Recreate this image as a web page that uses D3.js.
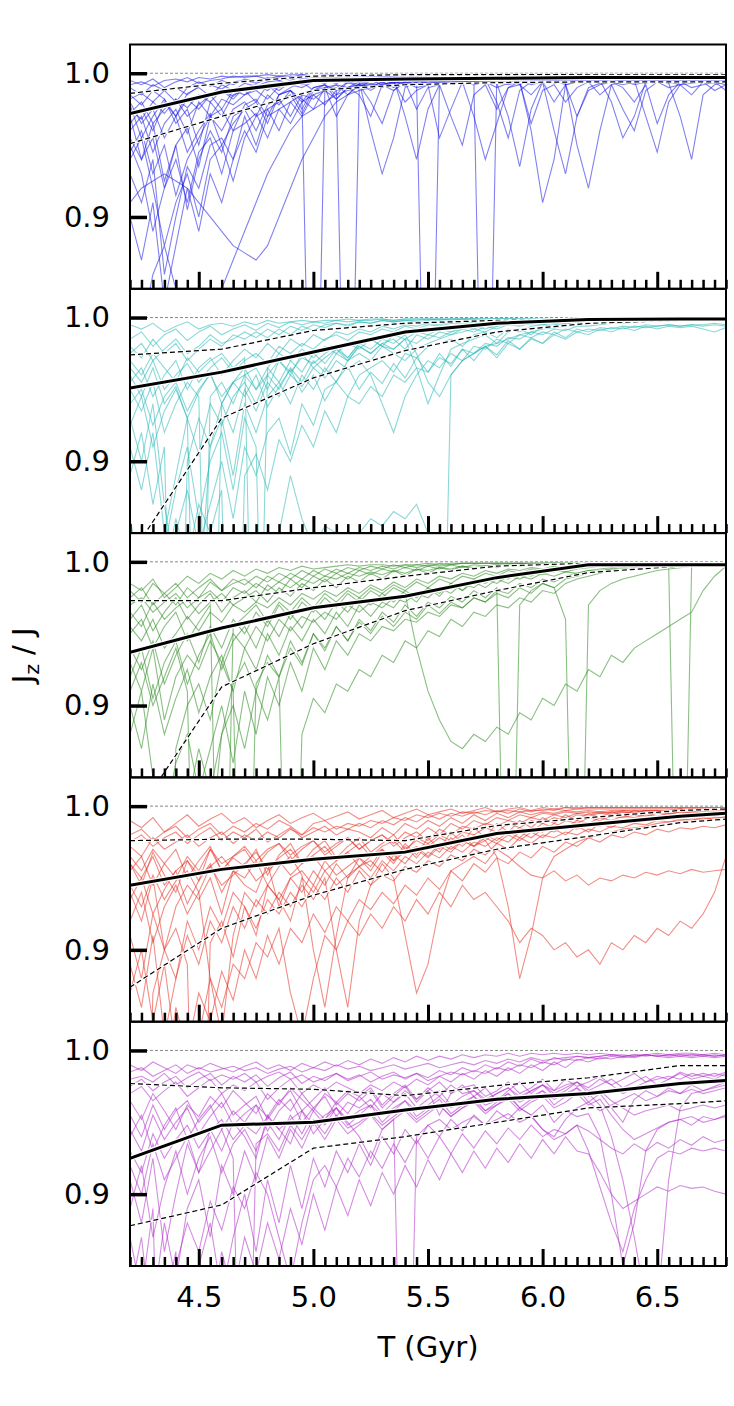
<!DOCTYPE html>
<html>
<head>
<meta charset="utf-8">
<script src="https://cdn.jsdelivr.net/npm/d3@7"></script>
<style>
body { margin: 0; background: #fff; }
text { font-family: "DejaVu Sans", sans-serif; }
</style>
</head>
<body>
<svg id="chart"></svg>
<script>
// sample times of the runs (Gyr)
const times = [4.2,4.25,4.3,4.35,4.4,4.45,4.5,4.55,4.6,4.65, 4.7,4.75,4.8,4.85,4.9,4.95,5.0,5.05,5.1,5.15,
  5.2,5.25,5.3,5.35,5.4,5.45,5.5,5.55,5.6,5.65, 5.7,5.75,5.8,5.85,5.9,5.95,6.0,6.05,6.1,6.15,
  6.2,6.25,6.3,6.35,6.4,6.45,6.5,6.55,6.6,6.65, 6.7,6.75,6.8];
// times of the binned median / percentile curves
const knots = [4.2,4.6,5.0,5.4,5.8,6.2,6.6,6.8];
const xTicks = [4.5,5.0,5.5,6.0,6.5];
const yTicks = [0.9,1.0];

// runs: 1 - Jz/J, in units of 1e-3
const blueRuns = [
  [8,6,9,5,4,6,3,4,2,3, 2,2,1,2,1,1,2,1,1,1, 1,1,1,2,1,1,1,1,1,1, 1,1,1,1,1,1,1,1,1,1, 1,1,1,1,1,1,1,1,1,1, 1,1,1],
  [18,14,20,12,10,15,9,8,11,6, 5,7,4,3,5,2,3,2,2,3, 2,2,3,2,1,2,2,1,2,2, 1,2,2,1,2,1,1,2,1,1, 2,1,1,2,1,1,2,1,1,1, 2,1,1],
  [25,32,20,28,18,24,15,20,12,16, 10,8,12,6,8,5,4,6,3,4, 3,5,2,4,3,2,3,4,2,3, 3,2,4,2,3,2,2,3,2,2, 2,3,2,2,4,3,2,2,3,2, 2,3,2],
  [40,30,55,35,25,42,20,30,18,22, 15,12,18,9,8,10,6,5,7,4, 5,3,4,6,3,4,5,3,4,3, 6,4,3,5,8,4,3,4,3,5, 3,4,3,3,5,4,3,4,3,3, 4,3,3],
  [30,60,45,80,50,38,65,30,25,40, 22,18,30,15,12,20,10,8,12,6, 8,5,6,10,5,4,7,5,4,6, 5,4,20,45,12,6,5,4,6,5, 4,5,4,6,5,4,5,4,6,5, 4,5,6],
  [15,22,12,18,30,14,10,16,8,12, 7,9,6,5,8,4,5,3,4,6, 4,3,5,4,30,60,25,8,5,4, 6,5,4,7,5,4,6,5,4,5, 4,5,6,4,5,30,55,20,8,5, 6,4,5],
  [50,70,110,80,60,90,55,45,70,40, 35,28,45,25,20,30,15,12,18,10, 8,12,7,9,6,10,8,6,7,5, 8,6,10,7,5,8,6,40,70,30, 10,7,6,8,6,7,5,6,8,7, 6,7,5],
  [20,35,25,45,30,55,40,28,50,35, 25,40,22,18,30,15,400,12,8,10, 6,8,5,7,4,6,5,8,4,5, 4,6,5,4,7,5,4,6,5,4, 5,4,6,5,4,5,4,6,5,4, 5,4,5],
  [60,45,80,120,90,70,100,60,50,75, 45,30,25,40,20,15,18,12,10,400, 9,7,10,6,8,5,7,6,5,4, 6,5,7,4,6,5,4,5,6,4, 5,6,4,5,4,6,5,4,5,6, 4,5,4],
  [100,130,90,160,120,80,110,70,90,60, 40,55,30,25,35,20,15,22,12,10, 8,10,6,9,7,5,8,6,5,7, 4,6,5,8,6,4,5,7,5,4, 6,5,4,5,7,5,4,6,5,4, 6,5,4],
  [90,80,75,70,75,80,90,100,110,120, 125,130,120,100,80,60,45,30,20,15, 12,10,8,6,5,6,5,4,5,4, 5,4,6,5,4,5,4,5,4,5, 4,5,4,5,4,5,4,5,4,5, 4,5,4],
  [35,25,40,20,30,18,25,15,12,18, 10,12,8,10,6,8,5,7,4,5, 6,40,70,45,10,6,5,4,6,5, 4,5,6,4,5,4,6,5,7,50, 80,40,8,6,5,4,6,5,4,5, 6,5,4],
  [5,8,4,10,6,3,7,5,4,2, 3,2,4,2,3,1,2,3,2,2, 2,3,2,2,1,3,2,2,3,2, 2,3,2,2,3,2,2,3,2,2, 3,2,2,3,2,2,3,2,2,3, 2,2,3],
  [45,60,35,75,50,95,60,40,55,30, 25,20,35,15,12,25,10,8,15,6, 10,5,8,12,6,5,400,6,5,8, 6,5,7,30,65,25,6,5,8,6, 5,4,6,5,8,6,5,7,5,6, 5,6,8],
  [28,20,35,25,18,30,22,15,25,12, 15,10,8,12,6,8,5,6,4,7, 5,4,6,5,8,4,6,5,4,6, 5,400,4,6,5,4,7,5,6,4, 6,5,20,45,30,6,5,4,6,5, 4,6,5],
  [70,90,60,140,100,65,80,50,45,60, 30,50,25,20,15,28,12,10,8,15, 7,10,6,5,9,6,5,7,6,5, 8,6,5,7,6,40,90,60,8,6, 5,7,6,5,4,6,5,7,30,60, 15,8,6],
  [10,15,8,12,20,10,6,9,5,8, 4,6,3,5,2,4,3,2,3,2, 3,2,2,3,2,2,3,2,2,3, 2,2,3,2,2,3,2,2,3,2, 2,3,2,2,3,2,2,3,2,2, 3,2,2],
  [160,180,140,120,150,170,200,180,150,130, 110,90,70,55,40,30,25,20,15,12, 10,8,9,7,6,8,5,6,7,5, 6,5,4,6,5,7,5,4,6,5, 4,6,5,4,6,5,4,5,6,4, 5,6,4],
  [55,40,70,50,85,60,45,30,40,25, 20,30,15,22,12,18,25,10,30,15, 8,20,35,12,6,25,10,8,30,50, 15,8,25,10,6,35,12,8,20,10, 6,15,8,25,40,12,6,10,8,15, 6,12,8],
  [22,45,30,18,35,25,50,20,30,15, 12,20,8,15,10,6,12,8,18,10, 15,30,8,6,20,12,8,45,25,6, 30,60,35,10,8,15,6,20,8,30, 12,8,6,10,20,8,35,15,6,10, 8,6,12]
];
const blueMedian = [0.972,0.987,0.995,0.996,0.9965,0.997,0.997,0.997];
const blueUpper  = [0.986,0.993,0.998,0.999,0.999,0.999,0.999,0.999];
const blueLower  = [0.951,0.970,0.988,0.992,0.9935,0.994,0.994,0.994];

const cyanRuns = [
  [5,8,4,10,6,3,8,5,4,6, 3,5,2,4,3,2,3,2,2,1, 2,1,1,2,1,1,1,1,1,1, 1,1,1,1,1,1,1,1,1,1, 1,1,1,1,1,1,1,1,1,1, 1,1,1],
  [20,28,15,25,18,30,22,15,20,12, 15,10,14,8,12,6,9,5,4,6, 3,4,2,3,2,3,2,1,2,1, 1,2,1,1,1,1,1,1,1,1, 1,1,1,1,1,1,1,1,1,1, 1,1,1],
  [35,45,30,50,40,32,45,35,28,38, 30,25,32,20,25,18,22,15,12,16, 10,12,8,10,6,8,5,6,4,5, 3,4,3,2,3,2,2,1,2,1, 1,1,1,1,1,1,1,1,1,1, 1,1,1],
  [60,50,75,55,45,65,50,40,55,45, 35,50,40,30,38,28,32,25,20,28, 18,15,20,12,15,10,12,8,10,6, 8,5,6,4,5,3,4,3,2,3, 2,2,1,2,1,1,1,1,1,1, 1,1,1],
  [90,120,80,150,110,70,95,60,75,55, 45,60,40,50,35,45,30,38,25,30, 20,25,18,15,22,12,15,10,12,8, 10,6,8,5,6,4,5,3,4,3, 2,3,2,2,1,2,1,1,1,1, 1,1,1],
  [140,180,300,200,150,120,160,130,100,140, 90,110,80,70,95,60,75,50,45,55, 40,35,30,38,25,28,20,18,15,20, 12,10,14,8,10,6,5,4,5,3, 2,2,1,2,1,1,1,1,1,1, 1,1,1],
  [30,40,25,35,45,28,38,30,25,35, 28,400,35,25,30,22,28,20,25,18, 22,15,20,25,30,22,18,15,12,10, 8,10,6,5,4,5,3,4,3,2, 2,1,2,1,1,1,1,1,1,1, 1,1,1],
  [70,100,60,130,180,400,200,90,70,110, 60,80,55,45,60,40,50,35,45,30, 25,30,20,22,15,18,12,14,10,8, 6,8,5,4,5,3,4,2,3,2, 2,1,1,1,1,1,1,1,1,1, 1,1,1],
  [25,18,30,22,15,25,20,12,18,15, 10,14,8,12,6,9,5,7,4,5, 3,4,2,3,2,2,1,2,1,1, 1,1,1,1,1,1,1,1,1,1, 1,1,1,1,1,1,1,1,1,1, 1,1,1],
  [180,400,250,160,120,90,140,100,80,120, 70,90,400,150,110,140,160,145,150,155, 150,140,145,135,140,130,150,400,40,30, 25,20,18,15,12,10,8,7,6,5, 4,3,3,2,2,2,1,1,1,1, 1,1,1],
  [50,65,45,80,60,45,55,400,60,45, 40,35,50,30,40,25,35,28,22,30, 20,25,18,22,15,35,60,40,22,18, 15,12,18,10,8,12,6,5,4,3, 3,2,2,2,1,1,1,1,1,1, 1,1,1],
  [45,35,55,40,30,50,35,28,40,30, 22,28,18,25,15,20,12,16,10,12, 8,10,6,8,5,6,4,5,3,4, 3,2,3,2,2,1,2,1,1,1, 1,1,1,1,1,1,1,1,1,1, 1,1,1],
  [110,80,130,90,400,100,70,90,60,80, 50,65,45,55,40,48,35,42,30,36, 30,40,60,80,55,40,30,35,25,30, 20,22,15,18,12,14,10,12,8,10, 8,9,7,8,6,7,6,5,6,5, 5,4,5],
  [15,10,20,12,8,16,10,6,12,8, 5,9,4,7,3,5,3,4,2,3, 2,2,1,2,1,1,1,1,1,1, 1,1,1,1,1,1,1,1,1,1, 1,1,1,1,1,1,1,1,1,1, 1,1,1],
  [75,55,90,65,50,70,400,55,45,60, 40,50,35,45,30,38,25,32,22,28, 18,22,15,18,12,25,45,55,40,30, 25,20,28,18,22,15,18,12,15,10, 12,8,10,7,9,6,8,6,7,6, 8,10,7],
  [200,160,250,180,140,170,130,150,120,400, 110,95,120,85,100,75,90,65,80,55, 60,48,55,40,45,35,38,28,32,22, 25,18,20,14,15,10,12,8,9,6, 6,5,4,4,3,3,2,2,2,2, 2,2,1],
  [40,55,35,60,48,70,52,38,60,45, 55,40,62,48,36,52,40,58,44,34, 50,38,46,32,42,28,38,25,34,22, 30,20,26,16,22,14,18,10,14,8, 10,7,8,6,7,5,6,5,6,5, 6,5,6]
];
const cyanMedian = [0.951,0.962,0.976,0.990,0.996,0.9987,0.999,0.999];
const cyanUpper  = [0.974,0.978,0.991,0.996,0.998,0.999,0.999,0.999];
const cyanLower  = [0.834,0.930,0.958,0.977,0.990,0.996,0.998,0.999];

const greenRuns = [
  [15,20,12,25,18,10,15,8,12,6, 10,5,8,4,6,3,5,4,3,2, 3,2,2,3,2,2,1,2,1,1, 1,1,1,1,1,1,1,1,1,1, 1,1,1,1,1,1,1,1,1,1, 1,1,1],
  [30,25,35,28,22,32,25,20,28,18, 22,15,20,14,18,12,15,10,12,8, 10,7,9,6,8,5,6,4,5,3, 4,3,2,3,2,2,1,2,1,1, 1,1,1,1,1,1,1,1,1,1, 1,1,1],
  [45,55,40,60,50,38,48,35,42,30, 35,28,32,25,30,22,26,20,24,18, 22,16,20,14,18,12,15,10,12,8, 10,6,8,5,6,4,5,3,4,2, 2,2,1,2,1,1,1,1,1,1, 1,1,1],
  [70,90,60,110,80,65,75,55,70,50, 60,45,55,40,48,38,42,35,40,30, 35,28,32,25,28,22,25,18,22,15, 18,12,15,10,12,8,9,6,7,5, 4,3,3,2,2,2,1,1,1,1, 1,1,1],
  [120,90,150,400,130,100,85,110,70,90, 60,75,50,65,45,55,40,50,35,45, 30,38,28,32,22,28,18,24,15,20, 12,15,10,12,8,10,6,7,5,4, 3,3,2,2,2,1,1,1,1,1, 1,1,1],
  [25,18,30,22,15,25,18,12,20,15, 12,18,10,14,8,12,6,10,5,8, 4,6,3,5,2,4,2,3,2,1, 1,1,1,1,1,1,1,1,1,1, 1,1,1,1,1,1,1,1,1,1, 1,1,1],
  [160,200,400,180,140,120,160,130,100,140, 90,120,80,100,70,90,60,75,55,65, 50,55,45,48,40,42,35,38,30,32, 25,28,20,22,15,18,12,14,10,8, 6,5,4,3,3,2,2,2,1,1, 1,1,1],
  [50,40,60,45,35,55,42,30,400,45, 38,30,42,28,35,25,32,22,28,20, 25,18,22,16,20,14,18,12,15,10, 12,8,10,6,8,5,6,4,5,3, 3,2,2,2,1,1,1,1,1,1, 1,1,1],
  [90,70,100,80,60,90,400,200,120,85, 70,90,65,80,55,70,50,60,45,55, 40,48,35,42,30,38,28,32,24,28, 20,25,18,400,30,20,15,18,12,10, 8,6,5,4,3,3,2,2,2,1, 1,1,1],
  [35,45,28,40,32,26,36,28,22,30, 25,20,28,18,24,15,20,12,18,10, 14,8,12,6,10,5,8,4,6,3, 5,3,4,2,3,2,2,1,2,1, 1,1,1,1,1,1,1,1,1,1, 1,1,1],
  [200,250,180,150,400,170,130,160,120,100, 130,90,110,80,400,120,95,105,85,90, 75,80,65,70,55,60,48,52,40,45, 35,38,30,32,25,28,20,22,15,12, 10,8,6,5,4,3,3,2,2,2, 1,1,1],
  [60,75,55,85,65,50,70,45,60,40, 50,35,45,30,40,28,35,25,32,22, 28,20,25,18,22,60,90,110,125,130, 120,125,115,120,105,110,95,100,85,90, 75,80,65,70,60,55,50,45,40,35, 20,10,3],
  [40,30,48,35,25,40,30,22,35,25, 20,28,16,22,12,18,10,14,8,12, 6,9,5,7,4,6,3,5,2,4, 2,3,2,2,1,2,1,1,1,1, 1,1,1,1,1,1,1,1,1,1, 1,1,1],
  [100,130,85,120,95,75,105,80,65,90, 400,85,70,80,60,72,50,62,45,55, 42,50,38,45,35,40,30,36,28,32, 25,28,22,25,18,22,15,18,40,400, 30,20,15,12,10,8,6,5,4,3, 2,2,1],
  [20,28,15,22,30,18,25,14,20,12, 16,10,14,8,12,6,10,5,8,4, 6,3,5,2,4,2,3,1,2,1, 1,1,1,1,1,1,1,1,1,1, 1,1,1,1,1,1,1,1,1,1, 1,1,1],
  [80,60,95,70,55,85,65,50,75,55, 45,60,40,52,36,46,32,40,28,35, 25,30,22,28,20,25,18,22,15,20, 14,18,12,15,10,12,8,10,7,8, 6,7,5,6,5,4,4,3,400,3, 2,2,2]
];
const greenMedian = [0.937,0.954,0.968,0.976,0.989,0.998,0.998,0.998];
const greenUpper  = [0.973,0.973,0.982,0.990,0.997,0.999,0.999,0.999];
const greenLower  = [0.818,0.913,0.943,0.966,0.980,0.9925,0.997,0.998];

const redRuns = [
  [10,15,8,18,12,6,14,9,5,12, 8,15,10,6,12,8,5,10,7,4, 9,6,3,8,5,2,6,4,2,5, 3,1,4,2,1,3,1,2,1,1, 1,1,1,1,1,1,1,1,1,1, 1,1,1],
  [25,20,28,22,18,26,20,15,24,18, 22,16,25,20,15,22,18,14,20,16, 18,22,15,20,12,16,10,14,8,12, 6,10,5,8,4,6,4,5,3,4, 3,4,3,3,3,3,3,3,2,3, 2,2,2],
  [40,50,35,55,45,38,48,42,35,45, 40,32,44,36,30,40,34,28,38,32, 26,35,28,24,32,22,26,20,24,18, 20,15,18,12,15,10,12,8,10,6, 7,5,6,4,5,3,4,3,2,3, 2,2,2],
  [60,80,50,100,70,55,65,50,75,45, 55,60,40,70,50,45,55,38,48,42, 36,45,32,40,28,36,26,32,22,28, 20,24,18,20,15,18,12,15,10,12, 8,10,7,8,6,7,5,6,4,5, 4,4,3],
  [110,140,90,160,120,80,100,70,85,60, 70,90,55,65,80,50,60,45,55,48, 42,50,38,45,35,40,32,36,28,32, 25,28,22,25,18,22,16,18,14,16, 12,14,10,12,9,10,8,9,7,8, 6,7,5],
  [20,16,24,18,14,22,16,12,20,14, 18,12,16,10,14,20,12,10,16,12, 14,10,12,8,10,6,8,5,7,4, 5,3,4,3,4,3,3,2,3,2, 2,2,2,2,2,2,2,2,2,2, 2,2,2],
  [150,400,130,100,120,90,110,80,95,70, 85,65,75,60,70,55,65,50,100,140, 80,55,48,52,42,46,38,42,34,38, 30,34,26,30,22,26,20,22,18,20, 16,18,14,15,12,13,10,11,9,10, 8,9,7],
  [35,45,30,40,50,35,45,30,40,35, 28,38,30,26,34,28,24,32,26,22, 30,24,20,28,22,18,24,16,20,14, 16,12,14,10,12,8,10,6,8,5, 6,4,5,3,4,3,3,3,3,2, 2,2,2],
  [80,60,95,70,55,75,60,120,160,90, 60,70,55,65,50,60,45,55,40,50, 42,38,46,34,40,30,36,28,32,24, 28,20,24,18,22,15,18,12,15,10, 12,8,10,7,8,6,7,5,6,4, 5,4,3],
  [45,35,55,40,30,50,38,28,45,35, 30,42,32,26,38,30,24,34,28,22, 30,24,20,26,18,22,15,20,12,16, 10,13,8,10,6,8,5,6,4,5, 4,5,4,4,5,4,4,5,4,4, 3,3,3],
  [130,100,150,110,170,300,160,120,140,110, 120,95,105,85,130,160,120,90,100,80, 90,75,85,70,80,65,75,60,70,55, 65,60,70,80,95,85,90,100,95,105, 100,110,95,100,90,95,85,90,80,85, 75,60,35],
  [55,70,48,65,52,45,60,42,55,48, 40,52,45,38,48,40,35,45,38,32, 42,35,30,38,32,28,35,26,30,24, 28,22,26,20,24,18,22,16,20,14, 18,12,15,10,12,9,10,8,8,7, 6,6,5],
  [90,120,75,100,85,110,400,95,80,105, 70,85,65,75,60,70,55,65,50,60, 45,55,40,50,90,130,110,70,45,40, 35,40,30,35,42,48,50,45,52,48, 55,50,52,48,50,46,48,45,47,44, 46,45,44],
  [28,35,22,30,25,20,28,22,18,26, 20,24,18,22,16,20,15,18,14,16, 12,15,10,13,8,11,6,9,5,7, 4,6,3,5,2,4,2,3,1,2, 1,1,1,1,1,1,1,1,1,1, 1,1,1],
  [180,150,400,200,140,170,130,150,115,135, 100,120,90,110,85,95,75,88,70,80, 65,72,60,68,55,62,50,58,45,52, 40,46,36,40,32,36,28,32,25,28, 22,25,20,22,18,20,16,18,15,16, 14,15,13],
  [65,50,75,58,45,68,52,40,60,45, 50,38,55,42,35,48,100,140,90,50, 36,42,30,38,26,34,22,30,18,26, 15,22,12,18,10,15,8,12,6,10, 5,8,4,6,3,5,3,4,2,3, 2,2,2],
  [40,55,32,48,60,38,52,30,45,36, 42,30,48,34,26,40,30,24,36,28, 22,32,26,20,30,24,28,22,26,20, 28,24,35,70,120,90,50,35,30,25, 22,20,18,16,15,14,12,11,10,9, 9,8,8]
];
const redMedian = [0.945,0.956,0.963,0.968,0.981,0.987,0.993,0.995];
const redUpper  = [0.976,0.977,0.977,0.976,0.9865,0.992,0.997,0.998];
const redLower  = [0.874,0.915,0.938,0.956,0.970,0.979,0.9885,0.991];

const purpleRuns = [
  [15,12,18,14,10,16,12,15,13,11, 14,12,16,13,11,15,12,14,10,13, 11,14,12,10,13,11,9,12,10,8, 10,7,9,6,8,5,7,6,5,4, 5,4,3,4,3,3,2,3,2,2, 3,2,3],
  [20,18,22,16,24,19,15,21,17,20, 16,22,18,15,20,17,22,19,16,21, 18,15,20,17,19,16,21,18,15,17, 14,16,12,14,10,12,8,10,6,7, 5,6,4,5,4,3,4,3,3,4, 3,4,3],
  [45,60,38,55,42,35,50,40,30,45, 38,32,48,36,28,42,34,26,38,30, 35,28,40,32,25,36,28,45,30,24, 32,26,35,28,22,30,24,28,20,25, 22,18,24,20,16,22,18,20,15,18, 16,18,15],
  [90,120,75,140,100,65,85,55,70,50, 60,75,45,55,65,42,58,48,40,52, 45,38,50,42,35,46,40,34,44,38, 32,42,36,30,40,34,28,38,32,26, 36,30,40,50,34,28,32,26,30,24, 28,25,22],
  [150,400,180,120,160,110,90,130,80,100, 70,90,60,75,55,68,50,62,48,58, 52,45,55,48,42,50,44,38,46,40, 35,42,38,32,40,45,55,60,48,40, 36,42,38,34,30,35,32,28,30,27, 30,28,26],
  [60,45,70,52,40,62,48,38,55,42, 50,38,46,34,42,30,40,48,36,44, 32,40,30,36,28,34,26,32,24,30, 28,34,30,26,32,28,24,30,26,22, 28,24,20,26,22,18,24,20,16,20, 18,20,16],
  [110,80,130,95,70,100,75,60,85,65, 55,70,50,62,45,58,42,52,40,50, 60,75,55,48,400,60,52,48,55,50, 46,52,48,44,50,46,55,62,58,52, 56,62,68,72,65,70,64,68,62,66, 60,64,62],
  [30,25,35,28,22,32,26,20,30,24, 28,22,34,26,20,30,24,28,22,26, 30,24,28,22,26,20,24,18,22,16, 20,14,18,12,16,10,14,8,12,6, 8,5,6,4,5,3,4,3,4,3, 3,4,3],
  [200,160,250,180,140,400,150,120,170,130, 100,140,90,120,80,110,75,95,70,85, 65,80,60,72,55,65,52,60,48,56, 45,52,42,48,40,45,38,50,42,46, 44,60,100,150,120,70,55,50,48,52, 46,48,45],
  [70,85,58,75,62,52,68,56,48,62, 52,58,46,55,48,42,52,45,40,48, 42,38,45,40,35,42,38,32,40,36, 32,38,35,30,36,32,28,34,30,26, 32,28,35,40,45,42,40,38,42,40, 38,40,38],
  [130,170,110,400,150,120,140,105,125,95, 110,85,100,130,160,120,90,80,95,75, 88,70,82,65,78,62,75,60,72,58, 68,56,65,54,62,52,60,55,58,52, 70,95,120,140,110,90,75,70,72,68, 70,68,70],
  [10,14,8,12,16,10,13,9,12,15, 11,8,13,10,14,9,12,8,11,7, 10,6,9,5,8,4,7,4,6,3, 5,3,4,2,4,2,3,2,3,2, 3,2,3,3,4,3,4,5,4,5, 4,5,4],
  [80,100,65,90,75,60,85,70,55,75, 400,65,58,70,52,62,48,58,45,54, 50,44,52,46,40,48,42,38,46,40, 36,44,38,34,42,36,32,40,36,30, 38,34,45,55,62,58,54,50,48,46, 50,48,46],
  [170,130,200,150,400,250,160,190,140,170, 130,155,120,145,110,135,100,125,95,115, 90,108,85,100,80,95,76,90,72,85, 70,82,68,78,65,75,62,72,60,70, 72,85,100,110,105,100,95,98,94,96, 95,98,100],
  [25,20,28,22,18,26,20,16,24,18, 22,17,25,19,15,23,18,21,16,20, 17,22,18,15,20,16,19,14,17,12, 15,10,13,8,11,6,9,5,7,4, 5,4,3,4,3,4,3,4,3,3, 4,3,4],
  [55,70,45,62,50,40,58,46,36,52, 44,38,56,42,34,50,40,32,46,36, 40,34,44,36,30,40,34,28,38,32, 28,36,30,26,34,28,24,32,28,22, 26,20,24,30,26,22,20,18,20,16, 18,16,18],
  [35,48,30,42,55,38,46,32,40,28, 36,44,30,38,26,34,42,30,36,28, 32,26,38,30,24,34,28,22,30,26, 24,32,28,22,30,26,20,28,24,22, 30,38,60,90,130,175,180,90,40,30, 28,26,24]
];
const purpleMedian = [0.925,0.948,0.950,0.9586,0.966,0.970,0.977,0.979];
const purpleUpper  = [0.977,0.974,0.973,0.9685,0.9755,0.981,0.9895,0.9895];
const purpleLower  = [0.878,0.8925,0.932,0.940,0.950,0.960,0.963,0.965];

const panels = [
  { runs: blueRuns,   med: blueMedian,   hi: blueUpper,   lo: blueLower,   color: "#1a1ae6" },
  { runs: cyanRuns,   med: cyanMedian,   hi: cyanUpper,   lo: cyanLower,   color: "#2ab8b8" },
  { runs: greenRuns,  med: greenMedian,  hi: greenUpper,  lo: greenLower,  color: "#2a8a1e" },
  { runs: redRuns,    med: redMedian,    hi: redUpper,    lo: redLower,    color: "#e63022" },
  { runs: purpleRuns, med: purpleMedian, hi: purpleUpper, lo: purpleLower, color: "#b02ec8" }
];

// layout
const W = 734, H = 1406;
const left = 130, right = 726, top0 = 44.5, ph = 244.3;

const svg = d3.select("#chart").attr("width", W).attr("height", H).style("background", "#fff");

const x = d3.scaleLinear().domain([4.2, 6.8]).range([left, right]);
const minorTicks = x.ticks(50).filter(t => !xTicks.some(m => Math.abs(m - t) < 1e-6));

panels.forEach((p, k) => {
  const top = top0 + k * ph;
  const y = d3.scaleLinear().domain([0.85, 1.02]).range([top + ph, top]);
  const g = svg.append("g");

  g.append("clipPath").attr("id", "clip" + k)
    .append("rect").attr("x", left).attr("y", top).attr("width", right - left).attr("height", ph);
  const plot = g.append("g").attr("clip-path", `url(#clip${k})`);

  const runLine = d3.line().x((d, i) => x(times[i])).y(d => y(1 - d / 1000));
  plot.selectAll("path.run")
    .data(p.runs)
    .join("path")
    .attr("class", "run")
    .attr("d", runLine)
    .attr("fill", "none")
    .attr("stroke", p.color)
    .attr("stroke-width", 1.1)
    .attr("stroke-opacity", 0.55);

  // Jz/J = 1 reference
  plot.append("line")
    .attr("x1", left).attr("x2", right)
    .attr("y1", y(1)).attr("y2", y(1))
    .attr("stroke", "#888").attr("stroke-width", 1).attr("stroke-dasharray", "3,2");

  const binLine = d3.line().x((d, i) => x(knots[i])).y(d => y(d));
  [p.hi, p.lo].forEach(arr => {
    plot.append("path").attr("d", binLine(arr)).attr("fill", "none")
      .attr("stroke", "#fff").attr("stroke-width", 2.6);
    plot.append("path").attr("d", binLine(arr)).attr("fill", "none")
      .attr("stroke", "#000").attr("stroke-width", 1.2).attr("stroke-dasharray", "5,3");
  });
  plot.append("path").attr("d", binLine(p.med)).attr("fill", "none")
    .attr("stroke", "#fff").attr("stroke-width", 5.5);
  plot.append("path").attr("d", binLine(p.med)).attr("fill", "none")
    .attr("stroke", "#000").attr("stroke-width", 3);

  // axes (ticks inward)
  const last = k === panels.length - 1;
  const gx = g.append("g").attr("transform", `translate(0,${top + ph})`)
    .call(d3.axisBottom(x).tickValues(xTicks).tickSize(-17).tickPadding(20)
      .tickFormat(last ? d3.format(".1f") : ""));
  gx.select(".domain").remove();
  gx.selectAll(".tick line").attr("stroke-width", 3);

  const gm = g.append("g").attr("transform", `translate(0,${top + ph})`)
    .call(d3.axisBottom(x).tickValues(minorTicks).tickSize(-9).tickFormat(""));
  gm.select(".domain").remove();
  gm.selectAll(".tick line").attr("stroke-width", 2.5);

  const gy = g.append("g").attr("transform", `translate(${left},0)`)
    .call(d3.axisLeft(y).tickValues(yTicks).tickSize(-17).tickPadding(20).tickFormat(d3.format(".1f")));
  gy.select(".domain").remove();
  gy.selectAll(".tick line").attr("stroke-width", 3.5);

  [gx, gy].forEach(a => a.attr("font-size", 29).attr("font-family", "DejaVu Sans")
    .selectAll("text").attr("fill", "#000"));

  g.append("rect")
    .attr("x", left).attr("y", top).attr("width", right - left).attr("height", ph)
    .attr("fill", "none").attr("stroke", "#000").attr("stroke-width", 2);
});

svg.append("text")
  .attr("x", (left + right) / 2).attr("y", 1357)
  .attr("text-anchor", "middle").attr("font-size", 29)
  .text("T (Gyr)");

const yl = svg.append("text")
  .attr("transform", `translate(33,${top0 + 2.5 * ph}) rotate(-90)`)
  .attr("text-anchor", "middle").attr("font-size", 29);
yl.append("tspan").text("J");
yl.append("tspan").attr("font-size", 20).attr("dy", 6).text("z");
yl.append("tspan").attr("dy", -6).text(" / J");
</script>
</body>
</html>
